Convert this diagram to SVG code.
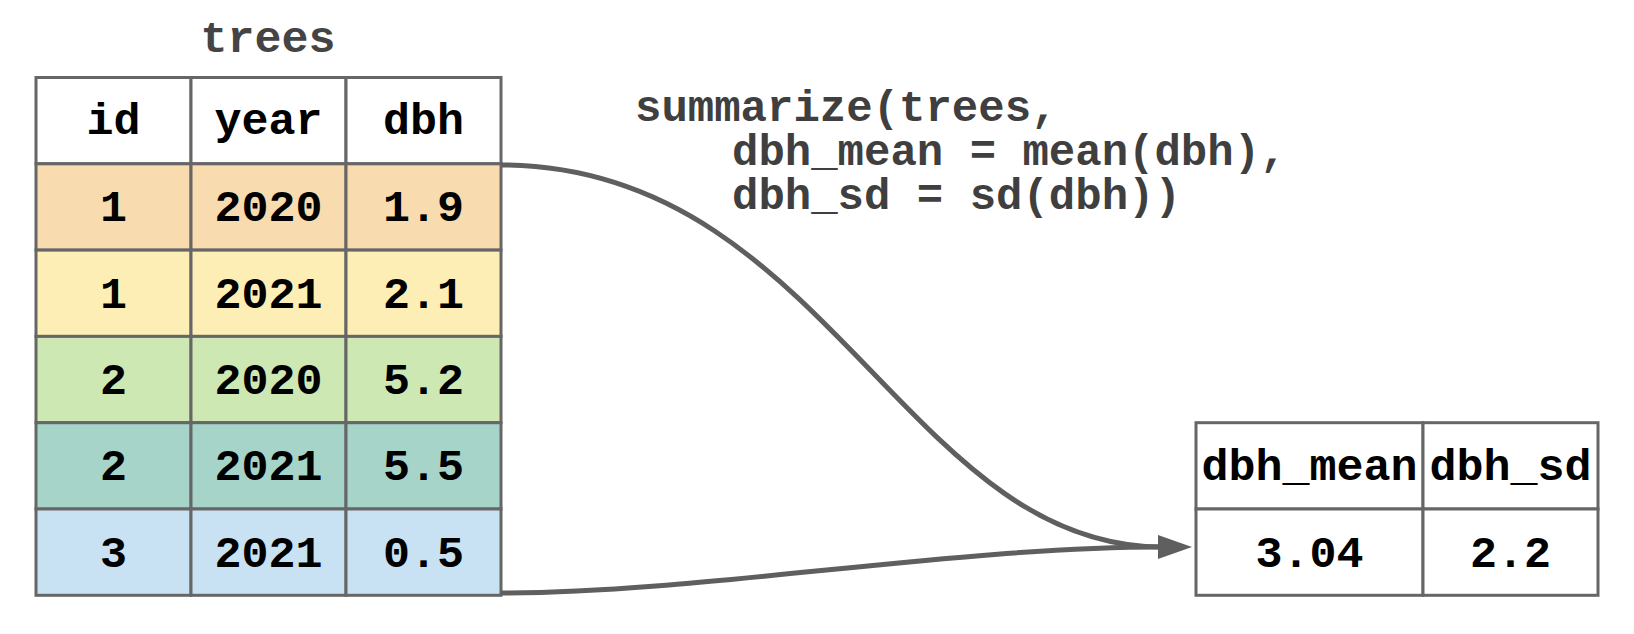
<svg xmlns="http://www.w3.org/2000/svg" width="1634" height="634" viewBox="0 0 1634 634">
<style>
.cell{stroke:#666;stroke-width:3}
.t{font-family:"Liberation Mono","Courier New",monospace;font-weight:bold;font-size:45px;fill:#000;text-anchor:middle}
.code{font-family:"Liberation Mono","Courier New",monospace;font-weight:bold;font-size:44px;fill:#3f3f3f;white-space:pre}
.conn{fill:none;stroke:#5f5f5f;stroke-width:5}
</style>
<defs>
<marker id="ah" markerUnits="userSpaceOnUse" markerWidth="40" markerHeight="30" refX="4" refY="12" orient="auto">
<path d="M0,0 L34,12 L0,24 Z" fill="#5f5f5f"/>
</marker>
</defs>
<rect width="1634" height="634" fill="#fff"/>
<g id="title">
<text class="code" x="268" y="52" text-anchor="middle" style="fill:#444;font-size:45px">trees</text>
</g>
<g id="trees-table">
<rect class="cell" x="36" y="77.5" width="155" height="86.3" fill="#fff"/>
<rect class="cell" x="191" y="77.5" width="155" height="86.3" fill="#fff"/>
<rect class="cell" x="346" y="77.5" width="155" height="86.3" fill="#fff"/>
<rect class="cell" x="36" y="163.8" width="155" height="86.3" fill="#f9dbb0"/>
<rect class="cell" x="191" y="163.8" width="155" height="86.3" fill="#f9dbb0"/>
<rect class="cell" x="346" y="163.8" width="155" height="86.3" fill="#f9dbb0"/>
<rect class="cell" x="36" y="250.1" width="155" height="86.3" fill="#fceeb5"/>
<rect class="cell" x="191" y="250.1" width="155" height="86.3" fill="#fceeb5"/>
<rect class="cell" x="346" y="250.1" width="155" height="86.3" fill="#fceeb5"/>
<rect class="cell" x="36" y="336.4" width="155" height="86.3" fill="#cee8b3"/>
<rect class="cell" x="191" y="336.4" width="155" height="86.3" fill="#cee8b3"/>
<rect class="cell" x="346" y="336.4" width="155" height="86.3" fill="#cee8b3"/>
<rect class="cell" x="36" y="422.7" width="155" height="86.3" fill="#a6d4c9"/>
<rect class="cell" x="191" y="422.7" width="155" height="86.3" fill="#a6d4c9"/>
<rect class="cell" x="346" y="422.7" width="155" height="86.3" fill="#a6d4c9"/>
<rect class="cell" x="36" y="509" width="155" height="86.3" fill="#c8e2f4"/>
<rect class="cell" x="191" y="509" width="155" height="86.3" fill="#c8e2f4"/>
<rect class="cell" x="346" y="509" width="155" height="86.3" fill="#c8e2f4"/>
<text class="t" x="113.5" y="134">id</text>
<text class="t" x="268.5" y="134">year</text>
<text class="t" x="423.5" y="134">dbh</text>
<text class="t" x="113.5" y="221">1</text>
<text class="t" x="268.5" y="221">2020</text>
<text class="t" x="423.5" y="221">1.9</text>
<text class="t" x="113.5" y="307.5">1</text>
<text class="t" x="268.5" y="307.5">2021</text>
<text class="t" x="423.5" y="307.5">2.1</text>
<text class="t" x="113.5" y="394">2</text>
<text class="t" x="268.5" y="394">2020</text>
<text class="t" x="423.5" y="394">5.2</text>
<text class="t" x="113.5" y="480">2</text>
<text class="t" x="268.5" y="480">2021</text>
<text class="t" x="423.5" y="480">5.5</text>
<text class="t" x="113.5" y="566.5">3</text>
<text class="t" x="268.5" y="566.5">2021</text>
<text class="t" x="423.5" y="566.5">0.5</text>
</g>
<g id="code-label">
<text class="code" x="635" y="121">summarize(trees,</text>
<text class="code" x="732" y="165">dbh_mean = mean(dbh),</text>
<text class="code" x="732" y="209">dbh_sd = sd(dbh))</text>
</g>
<g id="summary-table">
<rect class="cell" x="1196" y="422.7" width="227" height="86.3" fill="#fff"/>
<rect class="cell" x="1423" y="422.7" width="175" height="86.3" fill="#fff"/>
<rect class="cell" x="1196" y="509" width="227" height="86.3" fill="#fff"/>
<rect class="cell" x="1423" y="509" width="175" height="86.3" fill="#fff"/>
<text class="t" x="1309.5" y="480">dbh_mean</text>
<text class="t" x="1510.5" y="480">dbh_sd</text>
<text class="t" x="1309.5" y="566.5">3.04</text>
<text class="t" x="1510.5" y="566.5">2.2</text>
</g>
<g id="connectors">
<path class="conn" d="M501,165 C825,165 905,547 1162,547"/>
<path class="conn" d="M501,593 C700,593 950,547 1162,547" marker-end="url(#ah)"/>
</g>
</svg>
